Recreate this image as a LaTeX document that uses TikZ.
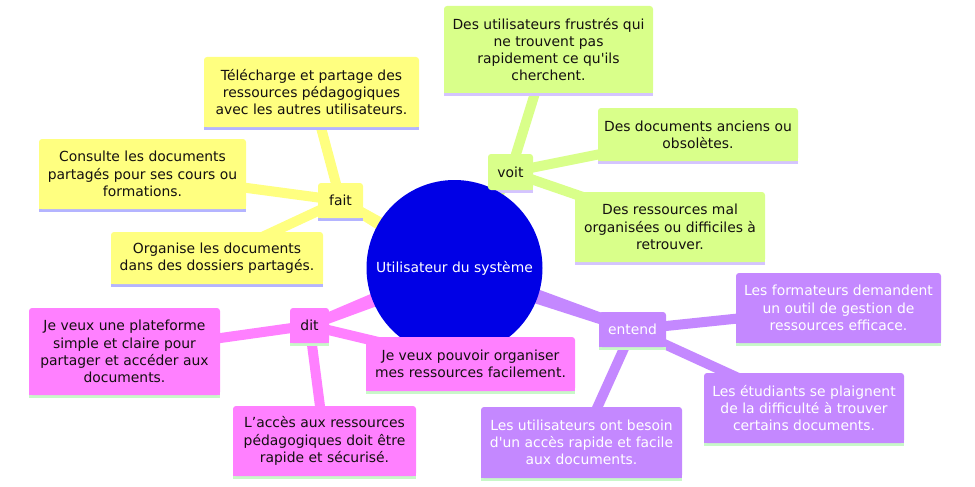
\documentclass[tikz,border=0pt]{standalone}
\usepackage{fontspec}
\newfontfamily\mapfont{DejaVu Sans}
\usetikzlibrary{calc,backgrounds}

\definecolor{hub}{HTML}{0000E6}
\definecolor{yel}{HTML}{FFFF80}
\definecolor{grn}{HTML}{D9FF8A}
\definecolor{pnk}{HTML}{FF80FF}
\definecolor{prp}{HTML}{C488FF}
\definecolor{barblue}{HTML}{B4B4FF}
\definecolor{barlav}{HTML}{D4C4FF}
\definecolor{bargrn}{HTML}{C8F8C8}
\definecolor{txt}{HTML}{141010}

% square bottom edge under a rounded box, plus its coloured underline
\newcommand\boxfoot[3]{%
  \fill[#2] ([yshift=4pt]#1.south west) rectangle (#1.south east);
  \fill[#3] (#1.south west) rectangle ([yshift=-3pt]#1.south east);
}
% tapered branch from the hub to a topic
\newcommand\hubbranch[3]{%
  \fill[#3] ($(#1)!9pt!90:(#2)$) -- ($(#2)!5pt!-90:(#1)$)
     -- ($(#2)!5pt!90:(#1)$) -- ($(#1)!9pt!-90:(#2)$) -- cycle;
}

\begin{document}
\begin{tikzpicture}[x=1pt,y=-1pt,
  box/.style={rectangle, rounded corners=3pt, inner sep=0pt, align=center,
    font=\mapfont\fontsize{13.9}{17.2}\selectfont, text=txt},
  sz/.style 2 args={minimum width=#1pt, minimum height=#2pt},
  ybox/.style={box, fill=yel},
  gbox/.style={box, fill=grn},
  pbox/.style={box, fill=pnk},
  vbox/.style={box, fill=prp, text=white},
  leaf/.style={line width=10pt}
]
\useasboundingbox (0,0) rectangle (975,487);

% hub
\node[circle, fill=hub, minimum size=176pt, inner sep=0pt, text=white,
  font=\mapfont\fontsize{13.9}{17.2}\selectfont] (c) at (454.5,268) {Utilisateur du système};

% "fait" branch
\node[ybox, sz={45}{35}] (fait) at (340.5,200.5) {fait};
\node[ybox, sz={215}{70}] (tel) at (311.5,92) {Télécharge et partage des\\ressources pédagogiques\\avec les autres utilisateurs.};
\node[ybox, sz={207}{70}] (cons) at (142.5,174) {Consulte les documents\\partagés pour ses cours ou\\formations.};
\node[ybox, sz={212}{52}] (org) at (217,258) {Organise les documents\\dans des dossiers partagés.};

% "voit" branch
\node[gbox, sz={45}{36}] (voit) at (510.5,172) {voit};
\node[gbox, sz={209}{87}] (frus) at (548.5,49.5) {Des utilisateurs frustrés qui\\ne trouvent pas\\rapidement ce qu'ils\\cherchent.};
\node[gbox, sz={200}{53}] (anc) at (698,134.5) {Des documents anciens ou\\obsolètes.};
\node[gbox, sz={190}{70}] (mal) at (670,227) {Des ressources mal\\organisées ou difficiles à\\retrouver.};

% "dit" branch
\node[pbox, sz={39}{35}] (dit) at (309.5,325.5) {dit};
\node[pbox, sz={191}{87}] (plat) at (124.5,351.5) {Je veux une plateforme\\simple et claire pour\\partager et accéder aux\\documents.};
\node[pbox, sz={209}{54}] (orgr) at (470.5,364) {Je veux pouvoir organiser\\mes ressources facilement.};
\node[pbox, sz={183}{70}] (acc) at (324.5,441) {L’accès aux ressources\\pédagogiques doit être\\rapide et sécurisé.};

% "entend" branch
\node[vbox, sz={67}{35}] (ent) at (632.5,329.5) {entend};
\node[vbox, sz={205}{70}] (form) at (838.5,308) {Les formateurs demandent\\un outil de gestion de\\ressources efficace.};
\node[vbox, sz={200}{70}] (etu) at (804,408) {Les étudiants se plaignent\\de la difficulté à trouver\\certains documents.};
\node[vbox, sz={201}{71}] (util) at (581.5,442.5) {Les utilisateurs ont besoin\\d'un accès rapide et facile\\aux documents.};

\begin{pgfonlayer}{background}
  % branches from the hub
  \hubbranch{c}{fait}{yel}
  \hubbranch{c}{voit}{grn}
  \hubbranch{c}{dit}{pnk}
  \hubbranch{c}{ent}{prp}
  % leaf connectors
  \draw[leaf, yel] (fait.center) -- (tel.center);
  \draw[leaf, yel] (fait.center) -- (cons.center);
  \draw[leaf, yel] (fait.center) -- (org.center);
  \draw[leaf, grn] (voit.center) -- (frus.center);
  \draw[leaf, grn] (voit.center) -- (anc.center);
  \draw[leaf, grn] (voit.center) -- (mal.center);
  \draw[leaf, pnk] (dit.center) -- (plat.center);
  \draw[leaf, pnk] (dit.center) -- (orgr.center);
  \draw[leaf, pnk] (dit.center) -- (acc.center);
  \draw[leaf, prp] (ent.center) -- (form.center);
  \draw[leaf, prp] (ent.center) -- (etu.center);
  \draw[leaf, prp] (ent.center) -- (util.center);
  % box underlines
  \foreach \n in {fait,tel,cons,org}{\boxfoot{\n}{yel}{barblue}}
  \foreach \n in {voit,frus,anc,mal}{\boxfoot{\n}{grn}{barlav}}
  \foreach \n in {dit,plat,orgr,acc}{\boxfoot{\n}{pnk}{bargrn}}
  \foreach \n in {ent,form,etu,util}{\boxfoot{\n}{prp}{bargrn}}
\end{pgfonlayer}
\end{tikzpicture}
\end{document}
